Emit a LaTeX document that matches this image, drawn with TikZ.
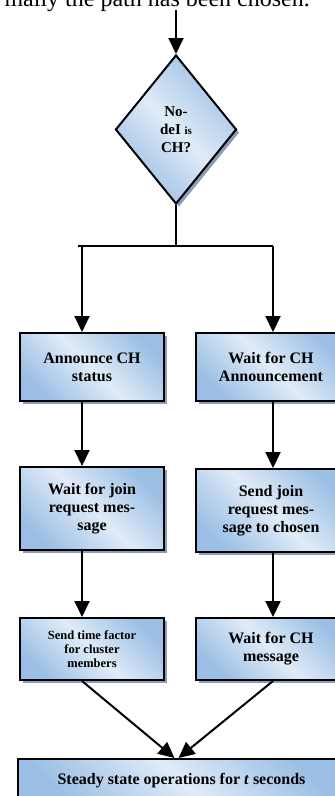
\documentclass[tikz,border=0pt]{standalone}
\usepackage{fontspec}
\setmainfont{Liberation Serif}
\usetikzlibrary{positioning,shapes.geometric,shadows,arrows.meta}
\definecolor{boxlight}{RGB}{224,235,247}
\definecolor{boxdark}{RGB}{156,192,229}
\definecolor{boxshade}{RGB}{138,158,184}

\begin{document}
\begin{tikzpicture}[x=1pt,y=-1pt,
  flow/.style={line width=2pt},
  flowarr/.style={line width=2pt, -{Triangle[width=15pt,length=16pt]}},
  blueface/.style={draw, line width=2pt, inner sep=0pt, align=center,
    top color=boxdark, bottom color=boxdark, middle color=boxlight, shading angle=-45,
    drop shadow={shadow xshift=3pt, shadow yshift=-3pt, fill=boxshade, opacity=1}},
  stepbox/.style={blueface, rectangle, font=\bfseries\fontsize{16}{18}\selectfont},
  decision/.style={blueface, diamond, font=\bfseries\fontsize{15}{18}\selectfont}]
\useasboundingbox (0,0) rectangle (335,796);

\node[anchor=base east, font=\fontsize{24}{28}\selectfont, inner sep=0pt] (intro) at (310,6) {mally the path has been chosen.};
\coordinate (entry) at (176,10);

\node[decision, minimum width=121pt, minimum height=149pt] (isch) at (176,129.5) {No-\\deI {\fontsize{11}{13}\selectfont is}\\CH?};

\coordinate (split) at (176,246);
\coordinate (lcol) at (82,246);
\coordinate (rcol) at (273,246);

% left branch: node is CH
\node[stepbox, minimum width=144pt, minimum height=68pt] (announce) at (92,367) {Announce CH\\status};
\node[stepbox, minimum width=144pt, minimum height=83pt] (waitjoin) at (92,508.5) {Wait for join\\request mes-\\sage};
\node[stepbox, minimum width=144pt, minimum height=62pt, font=\bfseries\fontsize{12.5}{14}\selectfont] (sendtime) at (92,649) {Send time factor\\for cluster\\members};

% right branch: node is not CH
\node[stepbox, minimum width=150pt, minimum height=68pt] (waitch) at (271,367) {Wait for CH\\Announcement};
\node[stepbox, minimum width=150pt, minimum height=83pt] (sendjoin) at (271,510.5) {Send join\\request mes-\\sage to chosen};
\node[stepbox, minimum width=150pt, minimum height=62pt] (waitmsg) at (271,649) {Wait for CH\\message};

\node[stepbox, minimum width=327pt, minimum height=44pt] (steady) at (181.5,781) {Steady state operations for \textit{t} seconds};

\draw[flowarr] (entry) -- (isch.north);
\draw[flow] (isch.south) -- (split);
\draw[flow] ([xshift=-4pt]lcol) -- (rcol);
\draw[flowarr] (lcol) -- (announce.north -| lcol);
\draw[flowarr] (rcol) -- (waitch.north -| rcol);
\draw[flowarr] (announce.south -| lcol) -- (waitjoin.north -| lcol);
\draw[flowarr] (waitjoin.south -| lcol) -- (sendtime.north -| lcol);
\draw[flowarr] (waitch.south -| rcol) -- (sendjoin.north -| rcol);
\draw[flowarr] (sendjoin.south -| rcol) -- (waitmsg.north -| rcol);
\draw[flowarr] (sendtime.south -| lcol) -- ([xshift=-7pt]steady.north);
\draw[flowarr] (waitmsg.south -| rcol) -- ([xshift=-3pt]steady.north);
\end{tikzpicture}
\end{document}
